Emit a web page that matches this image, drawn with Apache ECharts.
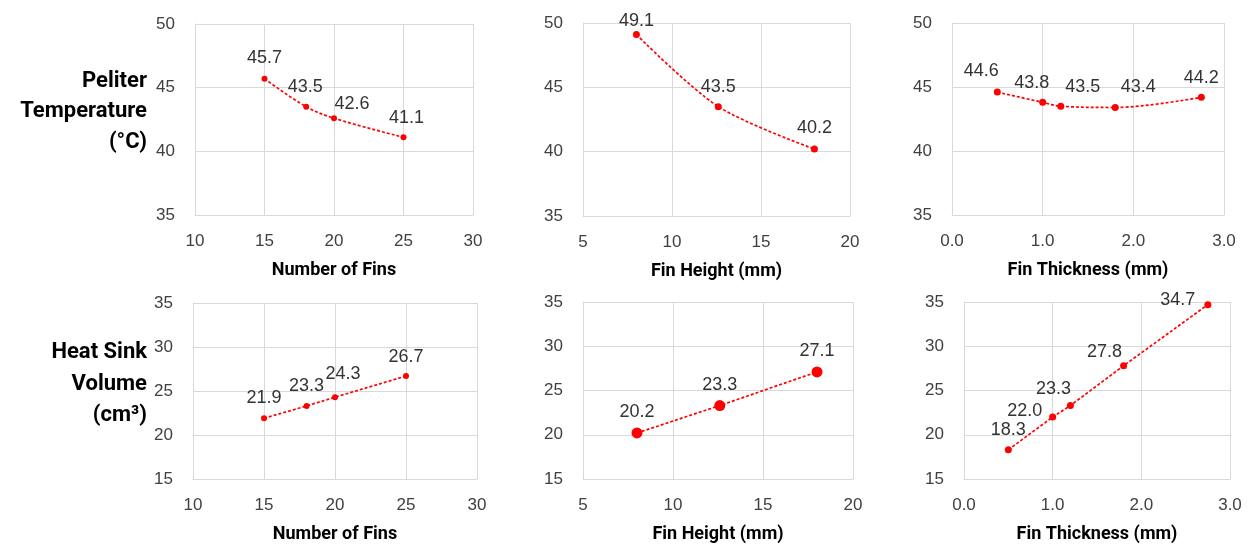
<!DOCTYPE html>
<html><head><meta charset="utf-8">
<script src="https://cdn.jsdelivr.net/npm/echarts@6/dist/echarts.min.js"></script>
<style>html,body{margin:0;padding:0;background:#fff}#c{width:1248px;height:544px}</style>
</head><body><div id="c"></div>
<script>
// ---- data ----
const finsX = [15, 18, 20, 25];
const finsTemp = [45.7, 43.5, 42.6, 41.1];
const finsVol = [21.9, 23.3, 24.3, 26.7];
const heightX = [8, 12.6, 18];
const heightTemp = [49.1, 43.5, 40.2];
const heightVol = [20.2, 23.3, 27.1];
const thickX = [0.5, 1.0, 1.2, 1.8, 2.75];
const thickTemp = [44.6, 43.8, 43.5, 43.4, 44.2];
const thickVol = [18.3, 22.0, 23.3, 27.8, 34.7];
const xNames = ['Number of Fins', 'Fin Height (mm)', 'Fin Thickness (mm)'];
const rowTop = ['Peliter', 'Temperature', '(°C)'];
const rowBottom = ['Heat Sink', 'Volume', '(cm³)'];

// ---- style (label offsets relative to point centre) ----
const offTL = [[0,-21],[-1,-20],[18,-14],[3,-19]];
const offTM = [[0,-14],[0,-20],[0,-21]];
const offTR = [[-16,-21],[-11,-19],[22,-19],[23,-20],[0,-19]];
const offBL = [[0,-20],[0,-20],[8,-23],[0,-19]];
const offBM = [[0,-21],[0,-21],[0,-21]];
const offBR = [[0,-20],[-28,-6],[-17,-17],[-19,-14],[-30,-5]];

const grids = [
  {left:195, top:24, width:278, height:191},
  {left:583, top:23, width:267, height:193},
  {left:952, top:23, width:272, height:192},
  {left:193, top:303, width:284, height:180},
  {left:583, top:302, width:270, height:181},
  {left:964, top:302, width:266, height:179}
];
const xr = [[10,30,5],[5,20,5],[0,3,1],[10,30,5],[5,20,5],[0,3,1]];
const yr = [[35,50,5],[35,50,5],[35,50,5],[15,35,5],[15,35,5],[15,35,5]];
const gridCol = '#d9d9d9';
const txtCol = '#404040';
const numFont = 'Liberation Sans, Arial, sans-serif';
const boldFont = 'Roboto, sans-serif';

const xAxes = xr.map((r,i)=>({
  type:'value', gridIndex:i, min:r[0], max:r[1], interval:r[2],
  name: xNames[i%3], nameLocation:'middle', nameGap:46,
  nameTextStyle:{fontFamily:boldFont, fontWeight:'bold', fontSize:18, color:'#000'},
  axisLine:{show:true, lineStyle:{color:gridCol}}, axisTick:{show:false},
  axisLabel:{fontFamily:numFont, fontSize:17, color:txtCol, margin:18,
    formatter: v => (i%3===2 ? v.toFixed(1) : String(v))},
  splitLine:{show:true, lineStyle:{color:gridCol, width:1}}
}));
const yAxes = yr.map((r,i)=>({
  type:'value', gridIndex:i, min:r[0], max:r[1], interval:r[2],
  axisLine:{show:true, lineStyle:{color:gridCol}}, axisTick:{show:false},
  axisLabel:{fontFamily:numFont, fontSize:17, color:txtCol, margin:20},
  splitLine:{show:true, lineStyle:{color:gridCol, width:1}}
}));

function mk(i, xs, ys, offs, smooth, size){
  return {
    type:'line', xAxisIndex:i, yAxisIndex:i, smooth:smooth,
    symbol:'circle', symbolSize:size,
    itemStyle:{color:'#ff0000'},
    lineStyle:{color:'#ff0000', width:1.7, type:[3,2]},
    data: xs.map((x,k)=>({value:[x, ys[k]],
      label:{show:true, position:'inside', offset:offs[k], formatter: ys[k].toFixed(1),
        fontFamily:numFont, fontSize:18, color:'#333'}})),
    animation:false
  };
}
const series = [
  mk(0, finsX, finsTemp, offTL, 0.35, 6),
  mk(1, heightX, heightTemp, offTM, 0.3, 7),
  mk(2, thickX, thickTemp, offTR, 0.35, 7),
  mk(3, finsX, finsVol, offBL, false, 6),
  mk(4, heightX, heightVol, offBM, false, 11),
  mk(5, thickX, thickVol, offBR, false, 7)
];

function rowText(lines, ys){
  return lines.map((t,k)=>({type:'text', x:0, y:0,
    style:{x:147, y:ys[k], text:t, fontFamily:boldFont, fontWeight:'bold', fontSize:22, fill:'#000',
      textAlign:'right', textVerticalAlign:'middle'}}));
}
const graphics = rowText(rowTop,[81,111,142]).concat(rowText(rowBottom,[352,384,415]));

const chart = echarts.init(document.getElementById('c'), null, {renderer:'canvas'});
chart.setOption({
  backgroundColor:'#fff', animation:false,
  grid: grids, xAxis: xAxes, yAxis: yAxes, series: series, graphic: graphics
});
</script></body></html>
